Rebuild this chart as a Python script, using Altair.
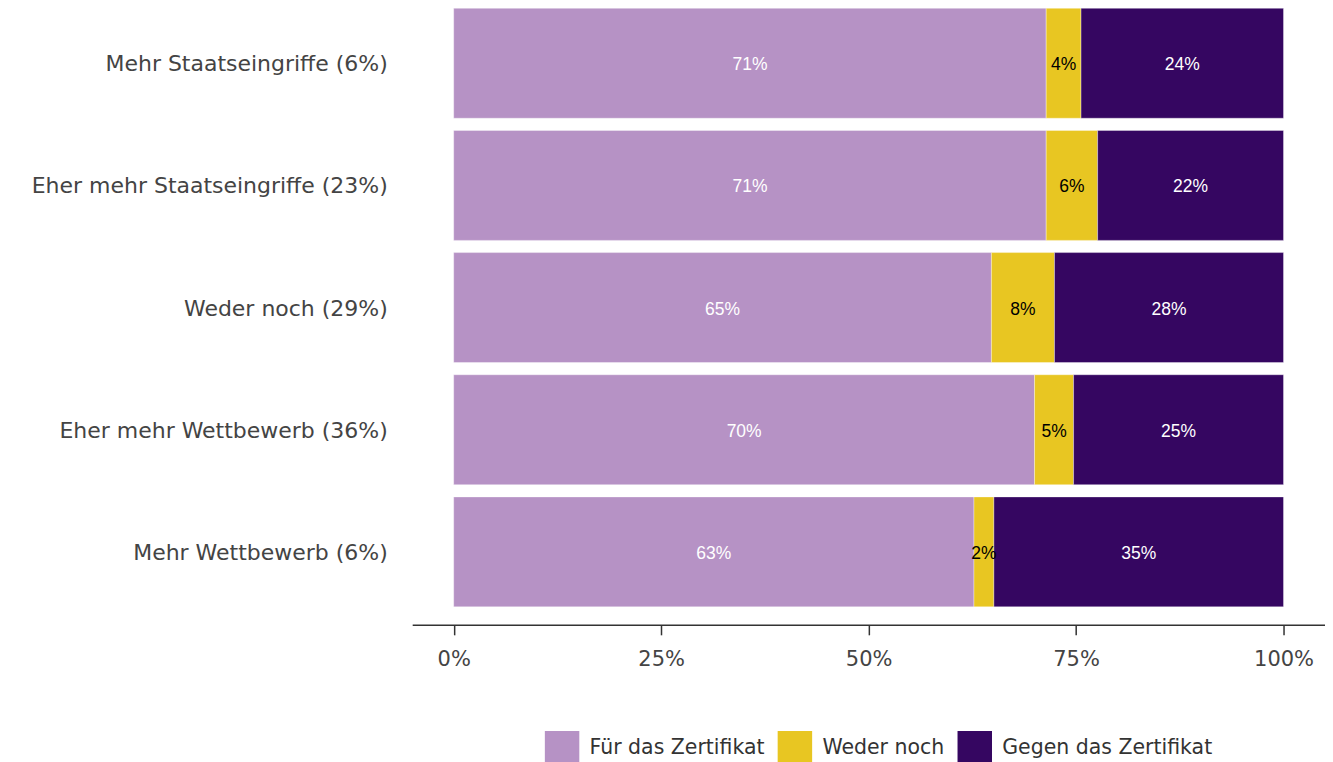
import altair as alt
import pandas as pd

categories = [
    "Mehr Staatseingriffe (6%)",
    "Eher mehr Staatseingriffe (23%)",
    "Weder noch (29%)",
    "Eher mehr Wettbewerb (36%)",
    "Mehr Wettbewerb (6%)",
]
responses = ["Für das Zertifikat", "Weder noch", "Gegen das Zertifikat"]
fuer = [71.4, 71.4, 64.8, 70.0, 62.7]
weder = [4.2, 6.2, 7.6, 4.7, 2.4]
gegen = [24.4, 22.4, 27.6, 25.3, 34.9]
colors = ["#b692c5", "#e8c622", "#350661"]
text_colors = ["#ffffff", "#000000", "#ffffff"]
x_ticks = [0, 25, 50, 75, 100]

FONT = "DejaVu Sans"

rows = []
for i, cat in enumerate(categories):
    for j, (resp, vals) in enumerate(zip(responses, [fuer, weder, gegen])):
        rows.append({
            "cat": cat,
            "resp": resp,
            "order": j,
            "value": vals[i],
            "label": f"{round(vals[i])}%",
            "tc": text_colors[j],
        })
df = pd.DataFrame(rows)

base = alt.Chart(df).transform_stack(
    stack="value", as_=["v0", "v1"], groupby=["cat"], sort=[alt.SortField("order")]
).transform_calculate(mid="(datum.v0 + datum.v1) / 2")

y_enc = alt.Y(
    "cat:N",
    sort=categories,
    title=None,
    scale=alt.Scale(paddingInner=0.1, paddingOuter=0),
    axis=alt.Axis(
        domain=False, ticks=False, labelFontSize=22, labelColor="#444444",
        labelFont=FONT, labelPadding=25, labelLimit=600, labelBaseline="middle",
        labelOffset=1,
    ),
)

x_scale = alt.Scale(domain=[-5, 105], nice=False, zero=False)

bars = base.mark_bar(stroke="#ffffff", strokeWidth=0.6, strokeOpacity=0.6).encode(
    x=alt.X(
        "v0:Q",
        scale=x_scale,
        title=None,
        axis=alt.Axis(
            values=x_ticks, labelExpr="datum.value + '%'", grid=False,
            domainColor="#333333", domainWidth=1.5, tickColor="#333333",
            tickWidth=1.5, tickSize=10, labelFontSize=21, labelColor="#444444",
            labelFont=FONT, labelPadding=14, offset=18,
        ),
    ),
    x2="v1:Q",
    y=y_enc,
    color=alt.Color(
        "resp:N",
        sort=responses,
        scale=alt.Scale(domain=responses, range=colors),
        legend=alt.Legend(
            title=None, orient="none", direction="horizontal",
            legendX=132.5, legendY=723, symbolType="square", symbolSize=1190,
            symbolStrokeWidth=0, labelFontSize=20.5, labelFont=FONT,
            labelColor="#333333", labelOffset=10, columnPadding=12, padding=0,
            labelLimit=500,
        ),
    ),
    order=alt.Order("order:Q"),
)

texts = base.mark_text(font="Liberation Sans", fontSize=17.5, dy=2).encode(
    x=alt.X("mid:Q", scale=x_scale),
    y=alt.Y("cat:N", sort=categories),
    text="label:N",
    color=alt.Color("tc:N", scale=None),
)

chart = alt.layer(bars, texts).properties(
    width=913.5,
    height=599,
    autosize=alt.AutoSizeParams(type="none"),
    padding={"left": 404.5, "top": 0, "right": 0, "bottom": 155},
).configure_view(stroke=None)

chart.save("out.html", embed_options={"renderer": "svg", "actions": False})
